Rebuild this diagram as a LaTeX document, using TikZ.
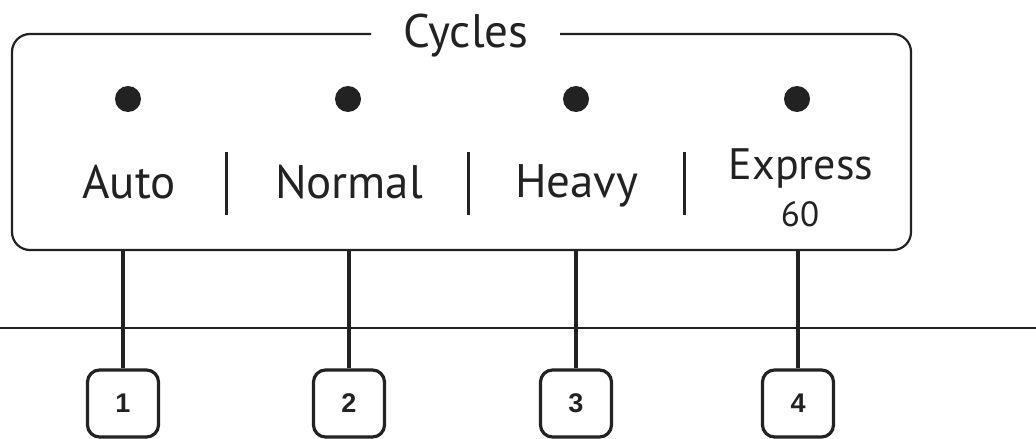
\documentclass[tikz,border=0pt]{standalone}
\usepackage{fontspec}
\setmainfont{PT Sans}
\newfontfamily\numfont{Liberation Sans}
\definecolor{ink}{HTML}{222222}
\begin{document}
\begin{tikzpicture}[x=1pt,y=-1pt,
  framestyle/.style={draw=ink,line width=2.2pt,rounded corners=18pt},
  lbl/.style={anchor=base,inner sep=0pt,text=ink,font=\fontsize{47}{50}\selectfont},
  lblsm/.style={anchor=base,inner sep=0pt,text=ink,font=\fontsize{44}{46}\selectfont},
  lbltiny/.style={anchor=base,inner sep=0pt,text=ink,font=\fontsize{35}{38}\selectfont},
  led/.style={fill=ink},
  sep/.style={draw=ink,line width=3pt},
  conn/.style={draw=ink,line width=3.2pt},
  numbox/.style={draw=ink,line width=3.2pt,rounded corners=12pt,minimum width=71pt,minimum height=67pt,inner sep=0pt,text=ink,font=\numfont\bfseries\fontsize{27}{30}\selectfont},
  baseline/.style={draw=ink,line width=2.2pt}]
\useasboundingbox (0,0) rectangle (1036,439);
% frame with gap for title
\draw[framestyle] (371,34) -- (12,34) -- (12,250) -- (911,250) -- (911,34) -- (560,34);
\node[lbl] (title) at (466,47) {Cycles};
% indicator dots
\coordinate (d1) at (128,99);
\coordinate (d2) at (348,99);
\coordinate (d3) at (576,99);
\coordinate (d4) at (797,99);
\fill[led] (d1) circle (13pt);
\fill[led] (d2) circle (13pt);
\fill[led] (d3) circle (13pt);
\fill[led] (d4) circle (13pt);
% labels
\node[lbl] (auto) at (129,198) {Auto};
\node[lbl] (normal) at (349,198) {Normal};
\node[lbl] (heavy) at (577,197) {Heavy};
\node[lblsm] (express) at (801,179) {Express};
\node[lbltiny] (sixty) at (800,226) {60};
% separators
\coordinate (s1a) at (226,152); \coordinate (s1b) at (226,215);
\coordinate (s2a) at (468,152); \coordinate (s2b) at (468,215);
\coordinate (s3a) at (684,152); \coordinate (s3b) at (684,215);
\draw[sep] (s1a) -- (s1b);
\draw[sep] (s2a) -- (s2b);
\draw[sep] (s3a) -- (s3b);
% horizontal line
\coordinate (hl) at (0,328); \coordinate (hr) at (1036,328);
\draw[baseline] (hl) -- (hr);
% number boxes
\node[numbox] (n1) at (123,403.5) {1};
\node[numbox] (n2) at (349,403.5) {2};
\node[numbox] (n3) at (576,403.5) {3};
\node[numbox] (n4) at (798,403.5) {4};
% connectors from frame bottom
\coordinate (b1) at (123,250);
\coordinate (b2) at (349,250);
\coordinate (b3) at (576,250);
\coordinate (b4) at (798,250);
\draw[conn] (b1) -- (n1.north);
\draw[conn] (b2) -- (n2.north);
\draw[conn] (b3) -- (n3.north);
\draw[conn] (b4) -- (n4.north);
\end{tikzpicture}
\end{document}
